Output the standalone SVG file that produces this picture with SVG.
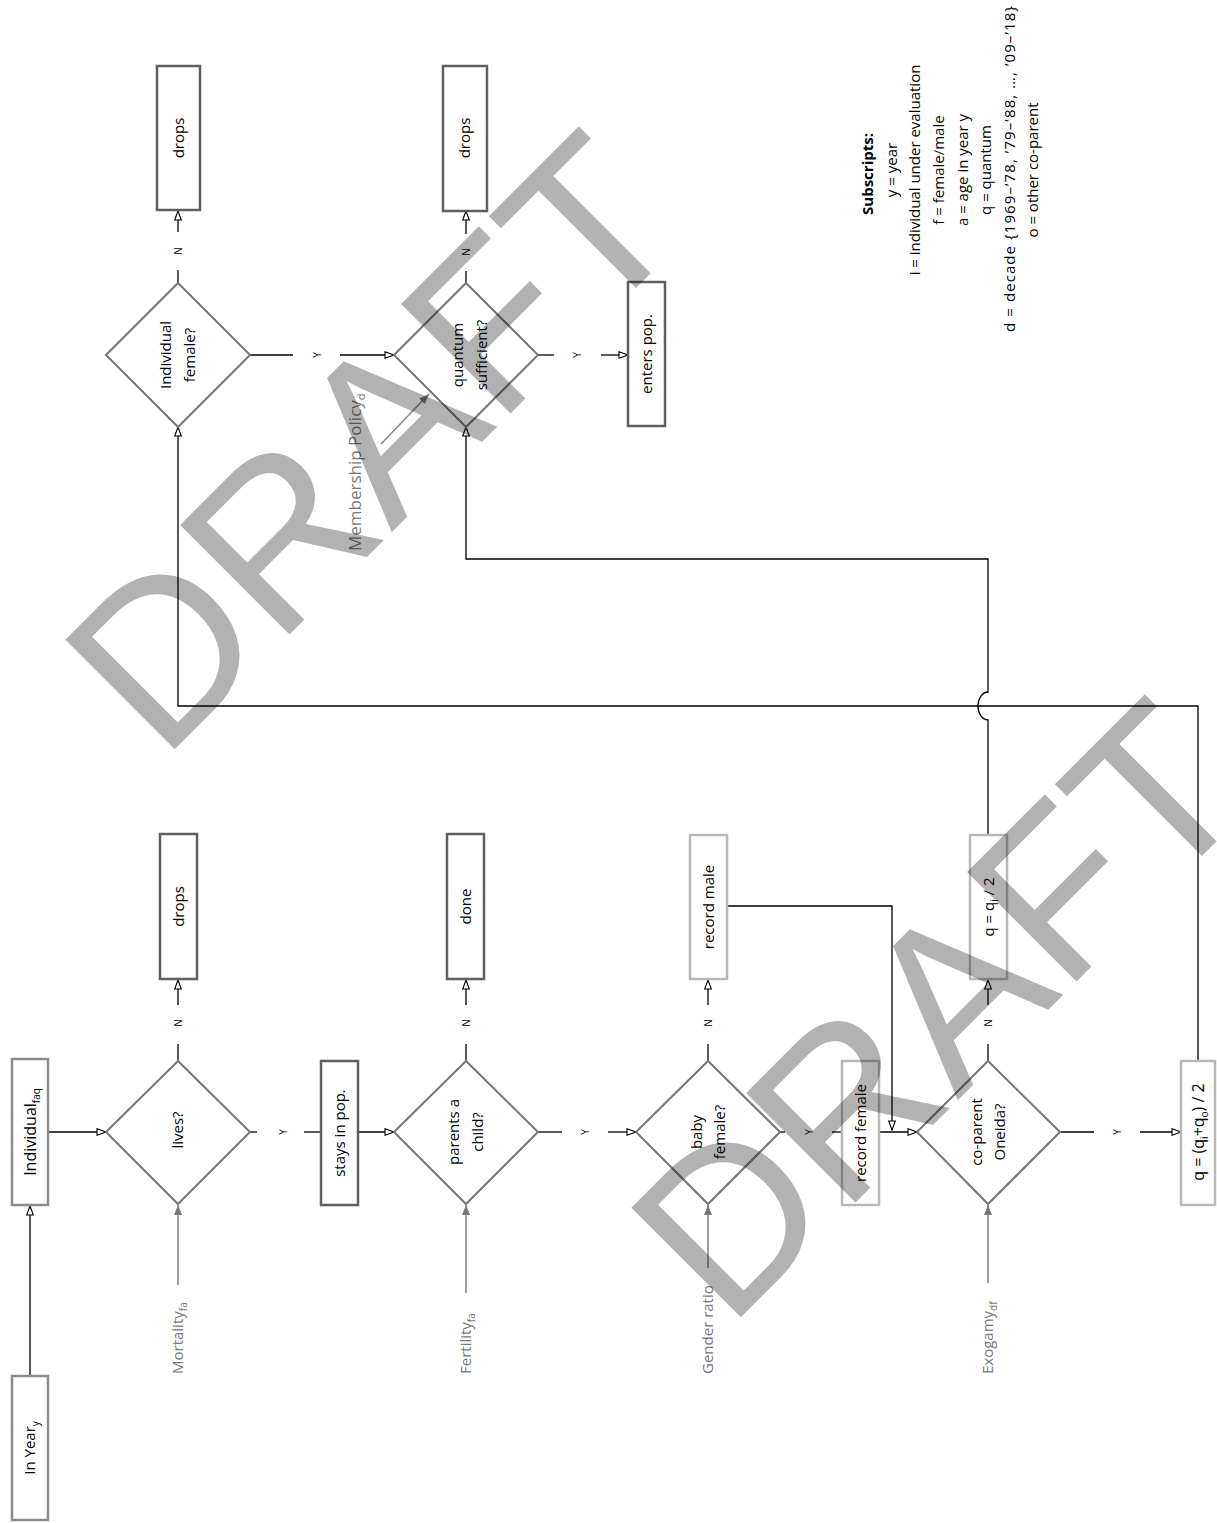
<svg xmlns="http://www.w3.org/2000/svg" width="1217" height="1523" viewBox="0 0 1217 1523">
<defs>
<style>
.box{fill:#fff;stroke-width:2.5}
.dark{stroke:#5f5f5f}
.mid{stroke:#8c8c8c}
.light{stroke:#b8b8b8}
.dia{fill:#fff;stroke:#767676;stroke-width:2}
.t{font-family:"Open Sans","Liberation Sans",sans-serif;font-size:15px;fill:#000;text-anchor:middle}
.yn{font-family:"Open Sans","Liberation Sans",sans-serif;font-size:10px;fill:#000;text-anchor:middle}
.in{font-family:"Open Sans","Liberation Sans",sans-serif;font-size:15px;fill:#777;text-anchor:start}
.c{fill:none;stroke:#000;stroke-width:1.3}
.ca{fill:none;stroke:#000;stroke-width:1.3;marker-end:url(#open)}
.g{fill:none;stroke:#888;stroke-width:1.6;marker-end:url(#fill)}
.wm{font-family:"Liberation Sans",Arial,sans-serif;font-size:225px;fill:#000;fill-opacity:0.3}
</style>
<marker id="open" markerUnits="userSpaceOnUse" markerWidth="11" markerHeight="9" viewBox="0 0 11 9" refX="10" refY="4.5" orient="auto">
<path d="M1,1.2 L10,4.5 L1,7.8 Z" fill="#fff" stroke="#000" stroke-width="1.1"/>
</marker>
<marker id="fill" markerUnits="userSpaceOnUse" markerWidth="11" markerHeight="9" viewBox="0 0 11 9" refX="10" refY="4.5" orient="auto">
<path d="M0,0.5 L10,4.5 L0,8.5 Z" fill="#777"/>
</marker>
</defs>

<g id="connectors">
<path class="ca" d="M30,1376 V1206"/>
<path class="ca" d="M48,1132 H106"/>
<path class="c" d="M178,1061 V1044"/>
<path class="ca" d="M178,1005 V980"/>
<path class="c" d="M250,1132 H257"/>
<path class="c" d="M304,1132 H321"/>
<path class="ca" d="M358,1132 H394"/>
<path class="c" d="M466,1061 V1044"/>
<path class="ca" d="M466,1005 V980"/>
<path class="c" d="M538,1132 H562"/>
<path class="ca" d="M608,1132 H636"/>
<path class="c" d="M708,1061 V1044"/>
<path class="ca" d="M708,1005 V980"/>
<path class="c" d="M780,1132 H785"/>
<path class="c" d="M832,1132 H842"/>
<path class="ca" d="M879,1132 H917"/>
<path class="ca" d="M727,906 H892 V1130"/>
<path class="c" d="M988,1061 V1044"/>
<path class="ca" d="M988,1005 V980"/>
<path class="c" d="M1061,1132 H1094"/>
<path class="ca" d="M1140,1132 H1181"/>
<path class="ca" d="M1198,1061 V706 H178 V427"/>
<path class="ca" d="M988,835 V720 A10,14 0 0 1 988,692 V559 H466 V427"/>
<path class="c" d="M178,283 V270"/>
<path class="ca" d="M178,232 V211"/>
<path class="c" d="M250,355 H293"/>
<path class="ca" d="M340,355 H394"/>
<path class="c" d="M466,283 V271"/>
<path class="ca" d="M466,234 V211"/>
<path class="c" d="M538,355 H554"/>
<path class="ca" d="M601,355 H628"/>
<path class="g" d="M381,444 L429,394"/>
<path class="g" d="M178,1285 V1205"/>
<path class="g" d="M466,1293 V1205"/>
<path class="g" d="M708,1268 V1205"/>
<path class="g" d="M988,1283 V1205"/>
<text class="yn" transform="translate(178,1023) rotate(-90)" dy=".35em">N</text>
<text class="yn" transform="translate(283,1132) rotate(-90)" dy=".35em">Y</text>
<text class="yn" transform="translate(466,1023) rotate(-90)" dy=".35em">N</text>
<text class="yn" transform="translate(585,1132) rotate(-90)" dy=".35em">Y</text>
<text class="yn" transform="translate(708,1023) rotate(-90)" dy=".35em">N</text>
<text class="yn" transform="translate(809,1132) rotate(-90)" dy=".35em">Y</text>
<text class="yn" transform="translate(988,1023) rotate(-90)" dy=".35em">N</text>
<text class="yn" transform="translate(1117,1132) rotate(-90)" dy=".35em">Y</text>
<text class="yn" transform="translate(178,251) rotate(-90)" dy=".35em">N</text>
<text class="yn" transform="translate(317,355) rotate(-90)" dy=".35em">Y</text>
<text class="yn" transform="translate(466,252) rotate(-90)" dy=".35em">N</text>
<text class="yn" transform="translate(577,355) rotate(-90)" dy=".35em">Y</text>
</g>

<g id="in-year">
<rect class="box mid" x="12" y="1376" width="36" height="144"/>
<text class="t" transform="translate(30,1448) rotate(-90)" dy=".35em">In Year<tspan font-size="10" dy="4">y</tspan></text>
</g>
<g id="individual">
<rect class="box mid" x="12" y="1059" width="36" height="146"/>
<text class="t" style="font-size:16px" transform="translate(30,1132) rotate(-90)" dy=".35em">Individual<tspan font-size="10" dy="4">faq</tspan></text>
</g>
<g id="lives">
<polygon class="dia" points="106,1132 178,1061 250,1132 178,1204"/>
<text class="t" transform="translate(178,1130) rotate(-90)" dy=".35em">lives?</text>
</g>
<g id="drops1">
<rect class="box dark" x="160" y="834" width="37" height="145"/>
<text class="t" transform="translate(178.5,906.5) rotate(-90)" dy=".35em">drops</text>
</g>
<g id="stays">
<rect class="box dark" x="321" y="1061" width="37" height="144"/>
<text class="t" transform="translate(339.5,1133) rotate(-90)" dy=".35em">stays in pop.</text>
</g>
<g id="parents">
<polygon class="dia" points="394,1132 466,1061 538,1132 466,1204"/>
<text class="t" transform="translate(454,1132) rotate(-90)" dy=".35em">parents a</text>
<text class="t" transform="translate(478,1132) rotate(-90)" dy=".35em">child?</text>
</g>
<g id="done">
<rect class="box dark" x="447" y="834" width="37" height="145"/>
<text class="t" transform="translate(465.5,906.5) rotate(-90)" dy=".35em">done</text>
</g>
<g id="baby">
<polygon class="dia" points="636,1132 708,1061 780,1132 708,1204"/>
<text class="t" transform="translate(697,1132) rotate(-90)" dy=".35em">baby</text>
<text class="t" transform="translate(720,1132) rotate(-90)" dy=".35em">female?</text>
</g>
<g id="record-male">
<rect class="box light" x="690" y="835" width="37" height="144"/>
<text class="t" transform="translate(708.5,907) rotate(-90)" dy=".35em">record male</text>
</g>
<g id="record-female">
<rect class="box light" x="842" y="1061" width="37" height="144"/>
<text class="t" transform="translate(860.5,1133) rotate(-90)" dy=".35em">record female</text>
</g>
<g id="coparent">
<polygon class="dia" points="917,1132 988,1061 1060,1132 988,1204"/>
<text class="t" transform="translate(977,1132) rotate(-90)" dy=".35em">co-parent</text>
<text class="t" transform="translate(1000,1132) rotate(-90)" dy=".35em">Oneida?</text>
</g>
<g id="q-half">
<rect class="box light" x="970" y="835" width="37" height="144"/>
<text class="t" transform="translate(988.5,907) rotate(-90)" dy=".35em">q = q<tspan font-size="10" dy="4">i</tspan><tspan dy="-4"> / 2</tspan></text>
</g>
<g id="q-avg">
<rect class="box light" x="1181" y="1061" width="34" height="144"/>
<text class="t" style="font-size:16px" transform="translate(1198,1132) rotate(-90)" dy=".35em">q = (q<tspan font-size="10" dy="4">i</tspan><tspan dy="-4">+q</tspan><tspan font-size="10" dy="4">o</tspan><tspan dy="-4">) / 2</tspan></text>
</g>
<g id="female">
<polygon class="dia" points="106,355 178,283 250,355 178,427"/>
<text class="t" transform="translate(166,355) rotate(-90)" dy=".35em">Individual</text>
<text class="t" transform="translate(190,355) rotate(-90)" dy=".35em">female?</text>
</g>
<g id="drops2">
<rect class="box dark" x="157" y="66" width="43" height="144"/>
<text class="t" transform="translate(178.5,138) rotate(-90)" dy=".35em">drops</text>
</g>
<g id="quantum">
<polygon class="dia" points="394,355 466,283 538,355 466,427"/>
<text class="t" transform="translate(458,355) rotate(-90)" dy=".35em">quantum</text>
<text class="t" transform="translate(482,355) rotate(-90)" dy=".35em">sufficient?</text>
</g>
<g id="drops3">
<rect class="box dark" x="443" y="66" width="44" height="145"/>
<text class="t" transform="translate(465,138) rotate(-90)" dy=".35em">drops</text>
</g>
<g id="enters">
<rect class="box dark" x="628" y="282" width="37" height="144"/>
<text class="t" transform="translate(646.5,354) rotate(-90)" dy=".35em">enters pop.</text>
</g>

<g id="inputs">
<text class="in" transform="translate(178,1374) rotate(-90)" dy=".35em">Mortality<tspan font-size="10" dy="4">fa</tspan></text>
<text class="in" transform="translate(466,1374) rotate(-90)" dy=".35em">Fertility<tspan font-size="10" dy="4">fa</tspan></text>
<text class="in" transform="translate(708,1374) rotate(-90)" dy=".35em">Gender ratio</text>
<text class="in" transform="translate(988,1374) rotate(-90)" dy=".35em">Exogamy<tspan font-size="10" dy="4">df</tspan></text>
<text class="in" style="font-size:17px" transform="translate(355,551) rotate(-90)" dy=".35em">Membership Policy<tspan font-size="11" dy="4">d</tspan></text>
</g>

<g id="legend" font-family="'Open Sans','Liberation Sans',sans-serif" font-size="15" text-anchor="middle" fill="#000">
<text transform="translate(868,174) rotate(-90)" dy=".35em" font-weight="bold">Subscripts:</text>
<text transform="translate(892,170) rotate(-90)" dy=".35em">y = year</text>
<text transform="translate(915,170) rotate(-90)" dy=".35em">i = individual under evaluation</text>
<text transform="translate(939,170) rotate(-90)" dy=".35em">f = female/male</text>
<text transform="translate(963,170) rotate(-90)" dy=".35em">a = age in year y</text>
<text transform="translate(986,170) rotate(-90)" dy=".35em">q = quantum</text>
<text transform="translate(1010,169) rotate(-90)" dy=".35em" textLength="326" lengthAdjust="spacing">d = decade {1969–’78, ’79–’88, …, ’09–’18}</text>
<text transform="translate(1033,170) rotate(-90)" dy=".35em">o = other co-parent</text>
</g>

<g id="watermark">
<text class="wm" transform="translate(161.7,762.3) rotate(-45)">DRAFT</text>
<text class="wm" transform="translate(727.7,1330.3) rotate(-45)">DRAFT</text>
</g>
</svg>
